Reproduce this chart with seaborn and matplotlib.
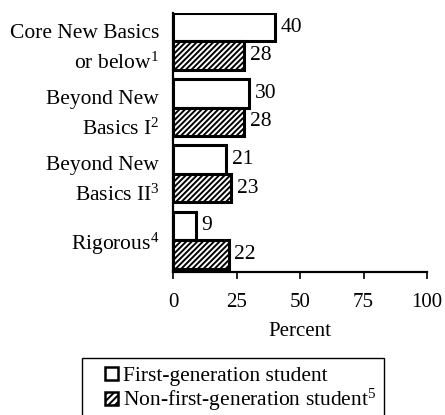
import matplotlib
matplotlib.use("Agg")
import matplotlib.pyplot as plt
import pandas as pd
import seaborn as sns
from matplotlib.legend_handler import HandlerPatch
from matplotlib.patches import Patch, Rectangle

# --- data ---
categories = [
    "Core New Basics\nor below$^1$",
    "Beyond New\nBasics I$^2$",
    "Beyond New\nBasics II$^3$",
    "Rigorous$^4$",
]
groups = ["First-generation student", "Non-first-generation student$^5$"]
first_gen = [40, 30, 21, 9]
non_first_gen = [28, 28, 23, 22]
x_ticks = [0, 25, 50, 75, 100]

df = pd.DataFrame({
    "category": categories * 2,
    "group": [groups[0]] * len(categories) + [groups[1]] * len(categories),
    "percent": first_gen + non_first_gen,
})

# --- style: theme first, then fonts ---
sns.set_theme(style="ticks")
plt.rcParams["font.family"] = ["Liberation Serif", "DejaVu Serif"]
plt.rcParams["mathtext.default"] = "regular"
plt.rcParams["hatch.linewidth"] = 1.4
plt.rcParams["text.color"] = "black"
plt.rcParams["axes.labelcolor"] = "black"
plt.rcParams["xtick.color"] = "black"
plt.rcParams["ytick.color"] = "black"

fig = plt.figure(figsize=(4.45, 4.15), dpi=100)
ax = fig.add_axes([173 / 445, 1 - 272 / 415, 254 / 445, 259 / 415])

sns.barplot(data=df, y="category", x="percent", hue="group", orient="h",
            palette=["white", "white"], edgecolor="black", linewidth=2.2,
            width=0.86, errorbar=None, legend=False, ax=ax)

# hatch the second series
for bar in ax.containers[1]:
    bar.set_hatch("//////")
for cont in ax.containers:
    ax.bar_label(cont, padding=4, fontsize=15.5)

ax.set_ylim(3.48, -0.43)
ax.set_xlim(0, 100)
ax.set_xticks(x_ticks)
ax.set_xlabel("Percent", fontsize=15, labelpad=7)
ax.set_ylabel("")
ax.tick_params(axis="y", length=0, pad=10, labelsize=15.5)
ax.tick_params(axis="x", length=5, width=1.2, pad=10, labelsize=15)
for t in ax.get_yticklabels():
    t.set_linespacing(1.6)
sns.despine(ax=ax)
for s in ("left", "bottom"):
    ax.spines[s].set_linewidth(1.6)
    ax.spines[s].set_color("black")


# small square legend keys, pushed to the right of the key area
def square_patch(legend, orig_handle, xdescent, ydescent, width, height, fontsize):
    s = 0.6 * fontsize
    return Rectangle((-xdescent + width - s, -ydescent + (height - s) / 2), s, s)


handles = [
    Patch(facecolor="white", edgecolor="black", linewidth=1.8),
    Patch(facecolor="white", edgecolor="black", linewidth=1.8, hatch="/////"),
]
leg = fig.legend(handles, groups, loc="upper left",
                 bbox_to_anchor=(82 / 445, 1 - 358 / 415),
                 bbox_transform=fig.transFigure,
                 handler_map={Patch: HandlerPatch(patch_func=square_patch)},
                 frameon=True, fancybox=False, edgecolor="black", framealpha=1,
                 fontsize=15.5, handlelength=1.3, handleheight=0.7,
                 handletextpad=0.25, borderpad=0.35, labelspacing=0.05,
                 borderaxespad=0)
leg.get_frame().set_linewidth(1)

fig.savefig("out.png", dpi=100)
